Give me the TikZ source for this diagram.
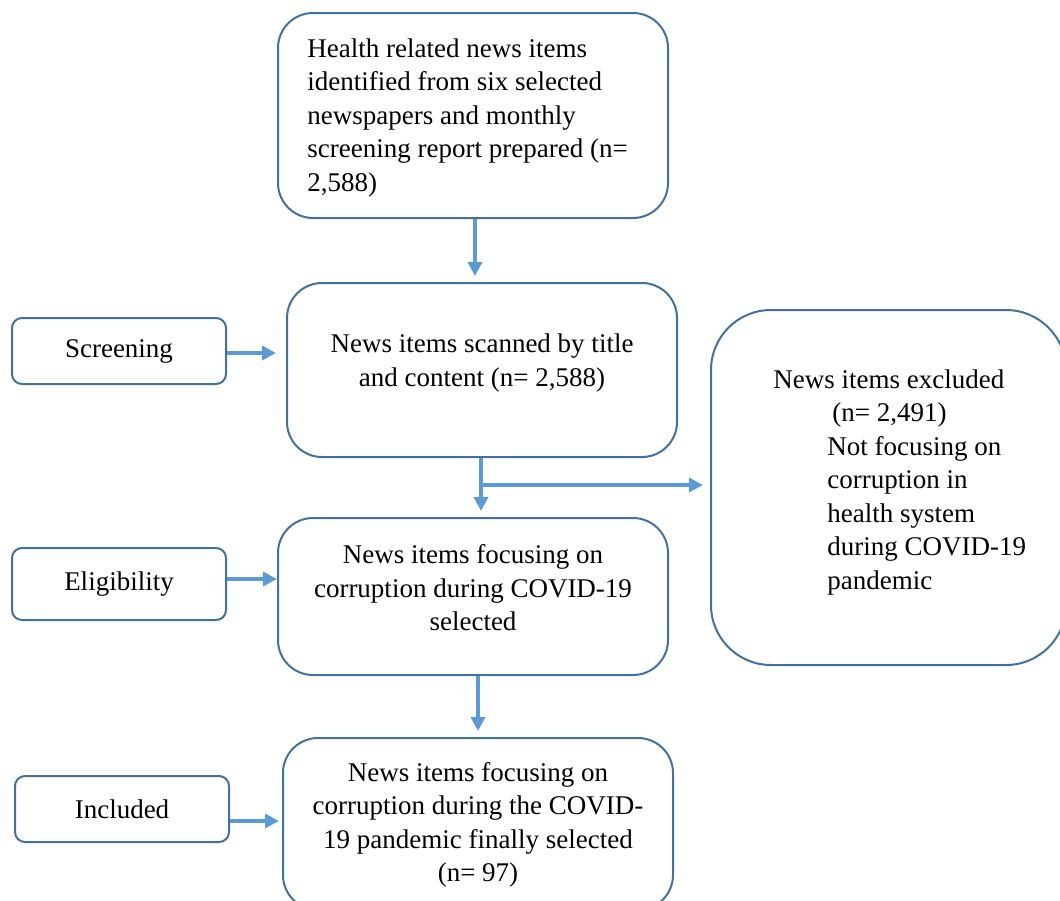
\documentclass[tikz,border=0pt]{standalone}
\usepackage{fontspec}
\setmainfont{Liberation Serif}
\usetikzlibrary{arrows.meta,positioning}

\definecolor{boxline}{HTML}{41719C}
\definecolor{arrowblue}{HTML}{5B9BD5}

\begin{document}
\begin{tikzpicture}[x=0.5pt,y=-0.5pt,
bigbox/.style={draw=boxline,line width=1pt,rounded corners=17.5pt,minimum width=195pt,font=\fontsize{13.5}{16.75}\selectfont},
sidebox/.style={draw=boxline,line width=1pt,rounded corners=5pt,minimum width=107pt,minimum height=33pt,font=\fontsize{13.5}{16.75}\selectfont},
txt/.style={align=center,inner sep=0pt,font=\fontsize{13.5}{16.75}\selectfont},
arrow/.style={-{Triangle[length=7pt,width=7pt]},line width=2pt,color=arrowblue}
]
\useasboundingbox (0,0) rectangle (1060,900);
\clip (0,0) rectangle (1060,900);

\node[bigbox,minimum height=102.5pt] (source) at (473,115.5) {};
\node[txt,align=left,anchor=west] (sourcetext) at (307,118) {Health related news items\\identified from six selected\\newspapers and monthly\\screening report prepared (n=\\2,588)};
\node[bigbox,minimum height=87pt] (scan) at (482,370) {};
\node[txt] (scantext) at (482,363) {News items scanned by title\\and content (n= 2,588)};
\node[bigbox,minimum width=177.5pt,minimum height=177.5pt,rounded corners=30pt] (excl) at (888.5,487.5) {};
\node[txt,align=left,anchor=west] (excltext) at (773,482) {News items excluded\\\hspace*{29.5pt}(n= 2,491)\\\hspace*{27pt}Not focusing on\\\hspace*{27pt}corruption in\\\hspace*{27pt}health system\\\hspace*{27pt}during COVID-19\\\hspace*{27pt}pandemic};
\node[bigbox,minimum height=78.5pt] (select) at (473,596.5) {};
\node[txt] (selecttext) at (473,588) {News items focusing on\\corruption during COVID-19\\selected};
\node[bigbox,minimum height=86pt] (final) at (478,824) {};
\node[txt] (finaltext) at (478,825) {News items focusing on\\corruption during the COVID-\\19 pandemic finally selected\\(n= 97)};

\node[sidebox] (screening) at (119,351) {Screening};
\node[sidebox,minimum height=36pt] (eligibility) at (119,584) {Eligibility};
\node[sidebox] (included) at (122,809) {Included};

\coordinate (branch) at (481,485);

\draw[arrow,shorten >=3pt] ([xshift=1pt]source.south) -- ([xshift=1pt]source.south |- scan.north);
\draw[arrow,shorten >=3pt] ([xshift=-0.5pt]scan.south) -- ([xshift=-0.5pt]scan.south |- select.north);
\draw[arrow,shorten >=3.5pt] (branch) -- (branch -| excl.west);
\draw[arrow,shorten >=3pt] ([xshift=2.5pt]select.south) -- ([xshift=2.5pt]select.south |- final.north);
\draw[arrow,shorten >=5pt] ([yshift=-1pt]screening.east) -- ([yshift=-1pt]screening.east -| scan.west);
\draw[arrow] ([yshift=2.5pt]eligibility.east) -- ([yshift=2.5pt]eligibility.east -| select.west);
\draw[arrow,shorten >=1.5pt] ([yshift=-6pt]included.east) -- ([yshift=-6pt]included.east -| final.west);
\end{tikzpicture}
\end{document}
